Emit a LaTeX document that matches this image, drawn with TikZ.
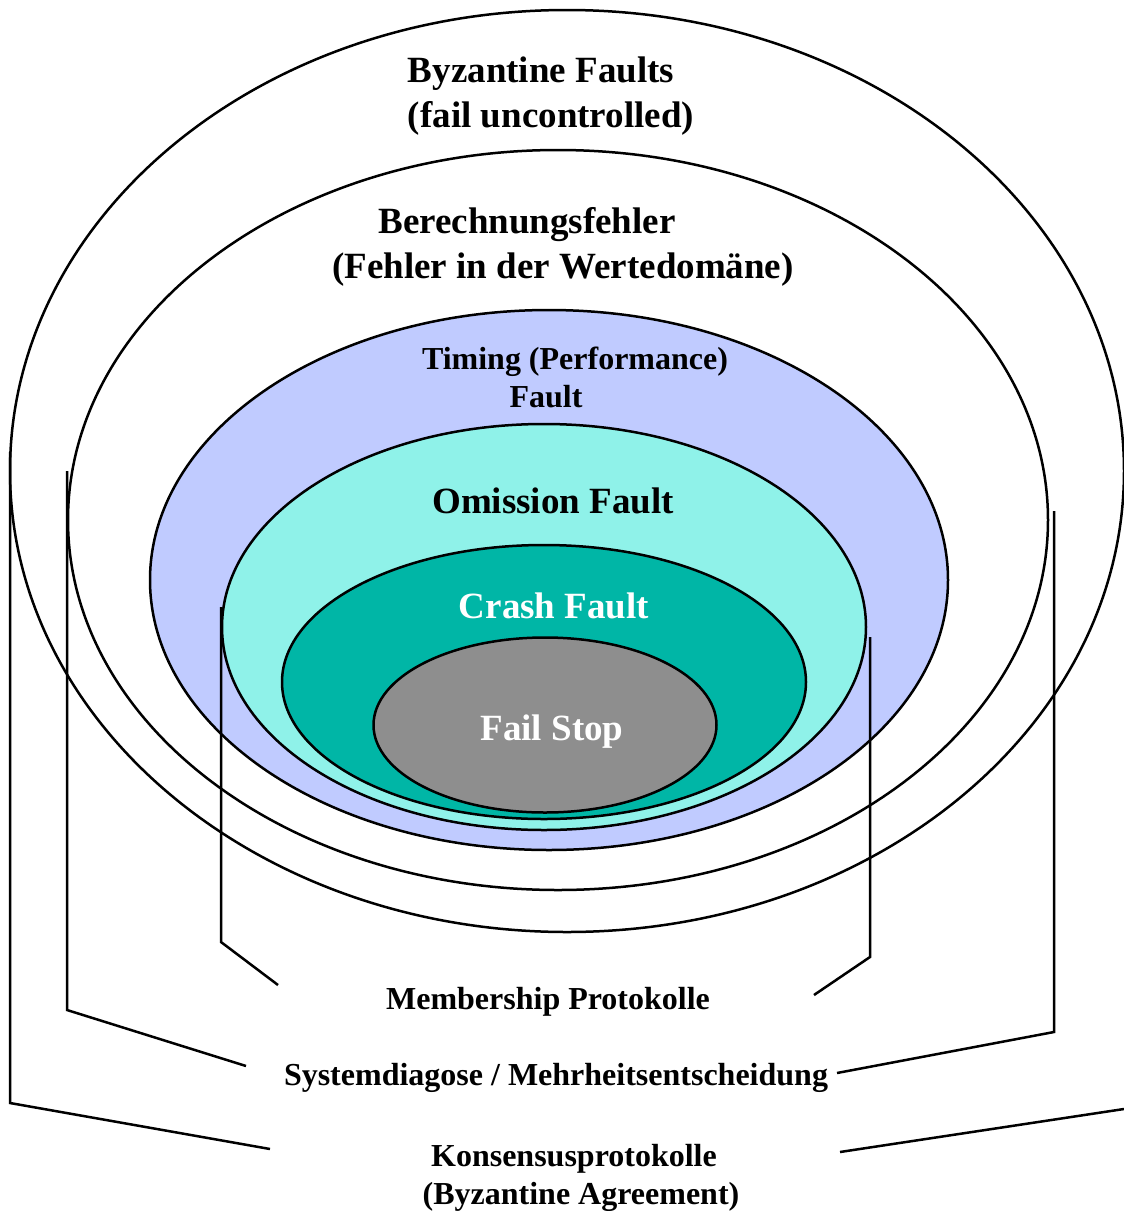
\documentclass[tikz,border=0pt]{standalone}
\usepackage{fontspec}
\setmainfont{Liberation Serif}
\usetikzlibrary{shapes.geometric}
\usetikzlibrary{positioning}
\definecolor{timingblue}{RGB}{192,203,255}
\definecolor{omissioncyan}{RGB}{143,242,233}
\definecolor{crashteal}{RGB}{0,182,166}
\definecolor{failgray}{RGB}{142,142,142}
\tikzstyle{zone} = [ellipse, draw=black, line width=2.5pt, inner sep=0pt]
\tikzstyle{bigtext} = [font=\fontsize{37}{45}\selectfont\bfseries, align=center, inner sep=0pt]
\tikzstyle{smalltext} = [font=\fontsize{32}{38}\selectfont\bfseries, align=center, inner sep=0pt]
\tikzstyle{bracket} = [line width=2.5pt, line join=miter]

\begin{document}
\begin{tikzpicture}[x=1pt, y=-1pt]
\useasboundingbox (0,0) rectangle (1124,1211);
% fault classes, outside to inside
\node (BZ) [zone, fill=white, minimum width=1114pt, minimum height=922pt] at (567,471) {};
\node (BR) [zone, fill=white, minimum width=980pt, minimum height=740pt] at (558,520) {};
\node (TZ) [zone, fill=timingblue, minimum width=798pt, minimum height=540pt] at (549,580) {};
\node (OZ) [zone, fill=omissioncyan, minimum width=644pt, minimum height=406pt] at (544,627) {};
\node (CZ) [zone, fill=crashteal, minimum width=524pt, minimum height=274pt] at (544,682) {};
\node (FZ) [zone, fill=failgray, minimum width=343pt, minimum height=175pt] at (545,725) {};
% labels
\node (BF) [bigtext] at (551,96) {Byzantine Faults\hspace*{20pt}\\(fail uncontrolled)};
\node (BE) [bigtext] at (563,247) {Berechnungsfehler\hspace*{72pt}\\(Fehler in der Wertedomäne)};
\node (TF) [smalltext] at (575,377) {Timing (Performance)\\Fault\hspace*{58pt}};
\node (OF) [bigtext] at (553,501) {Omission Fault};
\node (CF) [bigtext, text=white] at (554,606) {Crash Fault};
\node (FS) [bigtext, text=white] at (552,732) {Fail Stop};
\node (MP) [smalltext] at (548,1002) {Membership Protokolle};
\node (SD) [smalltext] at (556,1078) {Systemdiagose / Mehrheitsentscheidung};
\node (KP) [smalltext] at (581,1178) {Konsensusprotokolle\hspace*{14pt}\\(Byzantine Agreement)};
% bracket corners
\coordinate (MPlt) at (221,607);
\coordinate (MPlc) at (221,942);
\coordinate (MPle) at (278,985);
\coordinate (MPrt) at (870,637);
\coordinate (MPrc) at (870,957);
\coordinate (MPre) at (814,995);
\coordinate (SDlt) at (67,471);
\coordinate (SDlc) at (67,1010);
\coordinate (SDle) at (246,1066);
\coordinate (SDrt) at (1054,511);
\coordinate (SDrc) at (1054,1032);
\coordinate (SDre) at (837,1073);
\coordinate (KPlt) at (10,452);
\coordinate (KPlc) at (10,1103);
\coordinate (KPle) at (270,1149);
\coordinate (KPrc) at (1124,1109);
\coordinate (KPre) at (840,1152);
\draw [bracket] (MPlt) -- (MPlc) -- (MPle);
\draw [bracket] (MPrt) -- (MPrc) -- (MPre);
\draw [bracket] (SDlt) -- (SDlc) -- (SDle);
\draw [bracket] (SDrt) -- (SDrc) -- (SDre);
\draw [bracket] (KPlt) -- (KPlc) -- (KPle);
\draw [bracket] (KPrc) -- (KPre);
\end{tikzpicture}
\end{document}
